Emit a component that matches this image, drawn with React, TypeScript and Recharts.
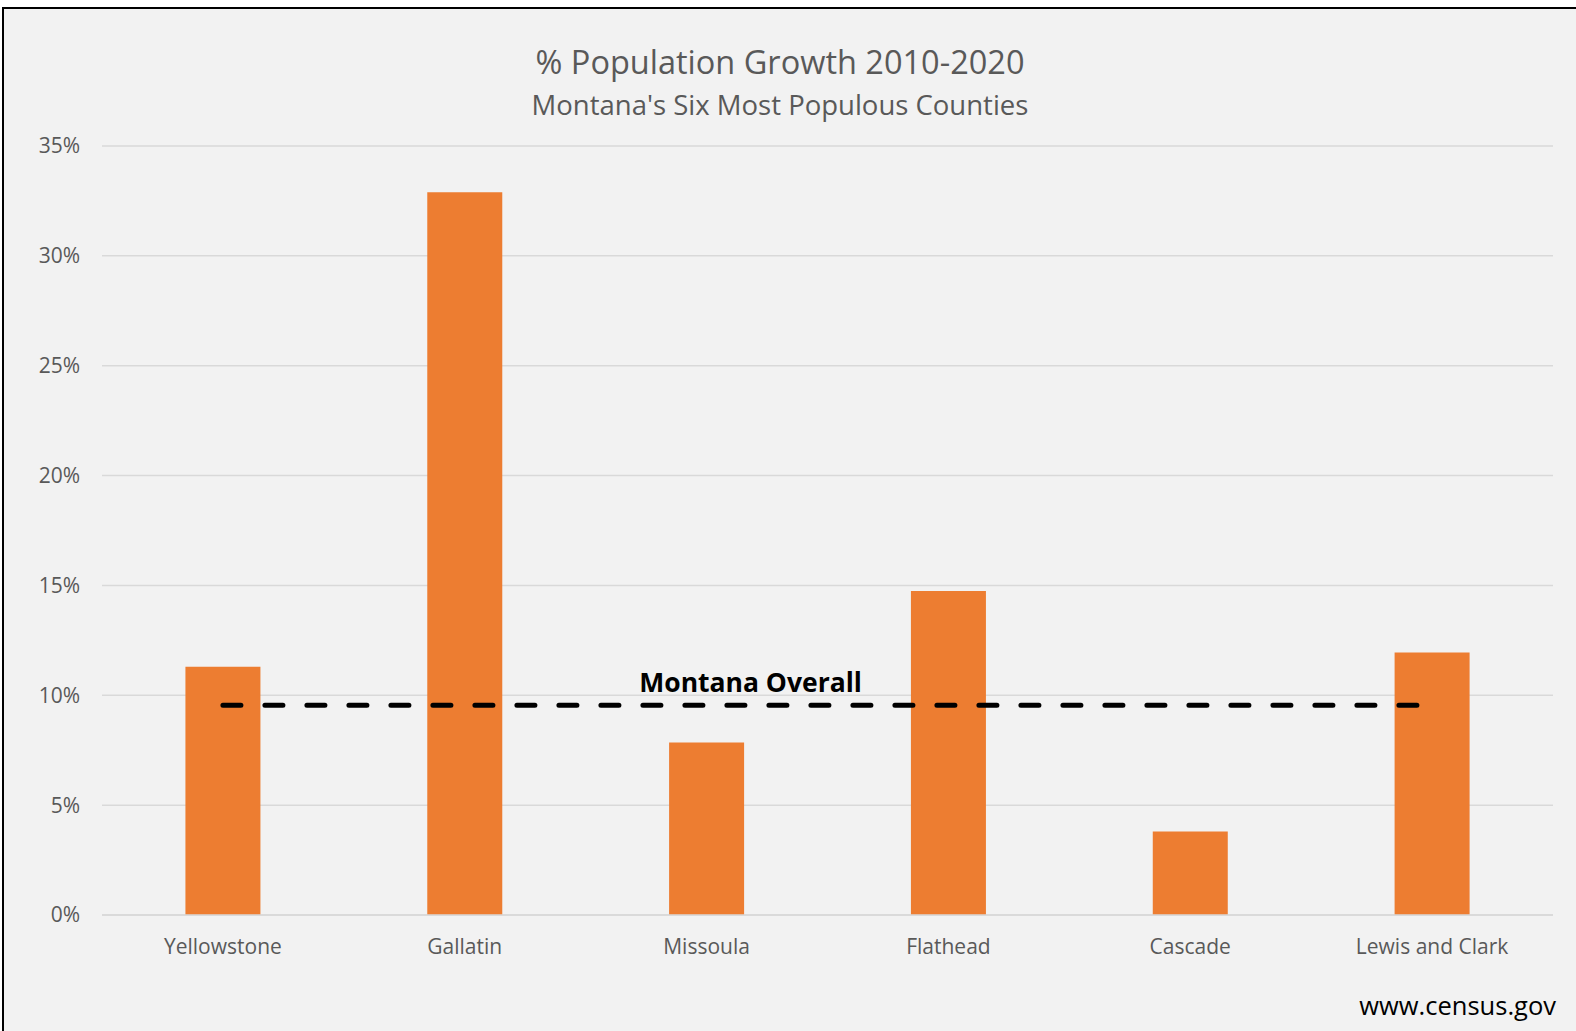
import { Bar, ComposedChart, Line, XAxis, YAxis, CartesianGrid } from "recharts"

// % growth 2010-2020
const counties = ["Yellowstone", "Gallatin", "Missoula", "Flathead", "Cascade", "Lewis and Clark"]
const growth = [11.3, 32.9, 7.85, 14.75, 3.8, 11.95]
const montanaOverall = [9.55, 9.55, 9.55, 9.55, 9.55, 9.55]
const yTicks = [0, 5, 10, 15, 20, 25, 30, 35]

const data = counties.map((name, i) => ({
  name,
  growth: growth[i],
  overall: montanaOverall[i],
}))

const font = "'Open Sans', sans-serif"
const grey = "#595959"

const OverallLabel = (props: any) => {
  const { x, y, index } = props
  if (index !== 2) return null
  return (
    <text x={x + 44} y={y - 13} textAnchor="middle" fontFamily={font} fontSize={26.5} fontWeight={700} fill="#000">
      Montana Overall
    </text>
  )
}

export default function App() {
  return (
    <div style={{ position: "absolute", left: 0, top: 0, width: 1576, height: 1031, background: "#fff", overflow: "hidden" }}>
      <div
        style={{
          position: "absolute",
          left: 2,
          top: 7,
          width: 1590,
          height: 1022,
          background: "#f2f2f2",
          border: "2px solid #000",
        }}
      />
      <div style={{ position: "absolute", left: 0, top: 0 }}>
        <ComposedChart
          width={1576}
          height={1031}
          data={data}
          margin={{ top: 146, right: 23, left: 0, bottom: 0 }}
          barCategoryGap="34.5%"
        >
          <CartesianGrid vertical={false} stroke="#d9d9d9" strokeWidth={1.5} />
          <XAxis
            dataKey="name"
            height={116}
            tickSize={0}
            tickMargin={24}
            axisLine={{ stroke: "#d9d9d9", strokeWidth: 1.5 }}
            tick={{ fill: grey, fontSize: 21, fontFamily: font }}
          />
          <YAxis
            width={102}
            domain={[0, 35]}
            ticks={yTicks}
            tickFormatter={(v) => `${v}%`}
            tickSize={0}
            tickMargin={22}
            axisLine={false}
            tick={{ fill: grey, fontSize: 21, fontFamily: font }}
          />
          <Bar dataKey="growth" fill="#ed7d31" isAnimationActive={false} />
          <Line
            dataKey="overall"
            stroke="#000"
            strokeWidth={5}
            strokeDasharray="18 24"
            strokeLinecap="round"
            dot={false}
            activeDot={false}
            isAnimationActive={false}
            label={<OverallLabel />}
          />
        </ComposedChart>
      </div>
      <div style={{ position: "absolute", left: 0, width: 1560, top: 40, textAlign: "center", fontFamily: font, color: grey, fontSize: 32.5, lineHeight: "44px" }}>
        % Population Growth 2010-2020
      </div>
      <div style={{ position: "absolute", left: 0, width: 1560, top: 87, textAlign: "center", fontFamily: font, color: grey, fontSize: 27.5, lineHeight: "36px" }}>
        Montana's Six Most Populous Counties
      </div>
      <div style={{ position: "absolute", right: 20, top: 987, fontFamily: font, color: "#000", fontSize: 25.5, lineHeight: "36px" }}>
        www.census.gov
      </div>
    </div>
  )
}
